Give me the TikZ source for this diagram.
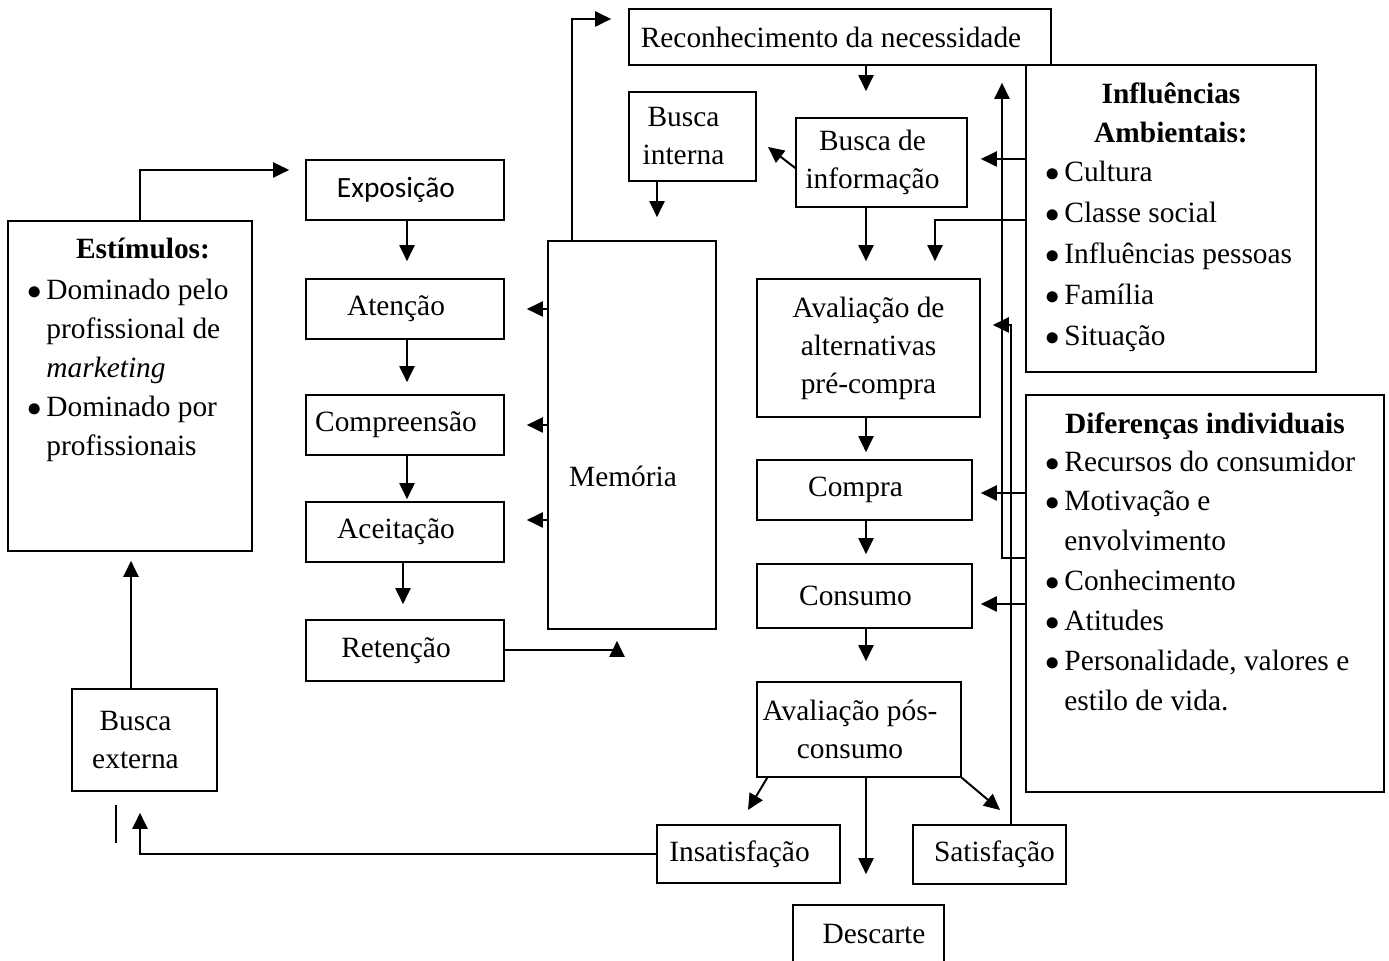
\documentclass[tikz,border=0pt]{standalone}
\usepackage{fontspec}
\setmainfont{Liberation Serif}
\newfontfamily\calibrifont{Carlito}
\usetikzlibrary{arrows.meta}

\newcommand{\fsz}{\fontsize{14.7}{19}\selectfont}
\newcommand{\bul}{\makebox[9.5pt][l]{$\bullet$}}
\newcommand{\nobul}{\hspace*{9.5pt}}
\newcommand{\pad}{\kern9pt}

\tikzset{
  box/.style={draw, line width=0.8pt, inner sep=0pt, align=center},
  arr/.style={-{Triangle[length=8pt,width=7.5pt]}, line width=1pt},
  item/.style={anchor=base west, inner sep=0pt},
  title/.style={anchor=base, inner sep=0pt, font=\fsz\bfseries},
}

\begin{document}
\begin{tikzpicture}[x=0.5pt, y=-0.5pt, font=\fsz]
\useasboundingbox (0,0) rectangle (1389,961);

% decision process (right column)
\node[box, minimum width=211pt, minimum height=28pt] (recon) at (840,37) {Reconhecimento da necessidade\pad};
\node[box, minimum width=63.5pt, minimum height=44.5pt] (interna) at (692.5,136.5) {Busca\pad\\interna\pad};
\node[box, minimum width=85.5pt, minimum height=44.5pt] (info) at (881.5,162.5) {Busca de\pad\\informação\pad};
\node[box, minimum width=111.5pt, minimum height=69pt] (avalia) at (868.5,348) {Avaliação de\\alternativas\\pré-compra};
\node[box, minimum width=107.5pt, minimum height=30pt] (compra) at (864.5,490) {Compra\pad};
\node[box, minimum width=107.5pt, minimum height=32pt] (consumo) at (864.5,596) {Consumo\pad};
\node[box, minimum width=102pt, minimum height=47.5pt] (pos) at (859,729.5) {Avaliação pós-\pad\\consumo\pad};
\node[box, minimum width=91.5pt, minimum height=29pt] (insat) at (748.5,854) {Insatisfação\pad};
\node[box, minimum width=76.5pt, minimum height=29.5pt] (satisf) at (989.5,854.5) {\kern5pt Satisfação};
\node[box, minimum width=75.5pt, minimum height=29pt] (descarte) at (868.5,934) {\kern5.5pt Descarte};

% information processing (left column)
\node[box, minimum width=99pt, minimum height=30pt, font=\calibrifont\fsz] (expos) at (405,190) {Exposição\pad};
\node[box, minimum width=99pt, minimum height=30pt] (atenc) at (405,309) {Atenção\pad};
\node[box, minimum width=99pt, minimum height=30pt] (compr) at (405,425) {Compreensão\pad};
\node[box, minimum width=99pt, minimum height=30pt] (aceit) at (405,532) {Aceitação\pad};
\node[box, minimum width=99pt, minimum height=30.5pt] (reten) at (405,650.5) {Retenção\pad};
\node[box, minimum width=84pt, minimum height=194pt] (memoria) at (632,435) {};
\node (memtext) at (623,476) {Memória};

% stimuli
\node[box, minimum width=122pt, minimum height=165pt] (estim) at (130,386) {};
\node[title] (estimtitle) at (143,259) {Estímulos:};
\foreach \y/\txt [count=\i] in {300/{\bul Dominado pelo}, 339/{\nobul profissional de},
    378/{\nobul\textit{marketing}}, 417/{\bul Dominado por}, 456/{\nobul profissionais}}
  \node[item] (estim\i) at (27,\y) {\txt};
\node[box, minimum width=72.5pt, minimum height=51pt] (externa) at (144.5,740) {Busca\pad\\externa\pad};

% influences
\node[box, minimum width=145pt, minimum height=153.5pt] (influ) at (1171,218.5) {};
\node[title] (inftitle) at (1171,104) {Influências};
\node[title] (inftitleb) at (1171,143) {Ambientais:};
\foreach \y/\txt [count=\i] in {182/{\bul Cultura}, 223/{\bul Classe social},
    264/{\bul Influências pessoas}, 305/{\bul Família}, 346/{\bul Situação}}
  \node[item] (inf\i) at (1045,\y) {\txt};

\node[box, minimum width=179pt, minimum height=198.5pt] (difer) at (1205,593.5) {};
\node[title] (diftitle) at (1205,434) {Diferenças individuais};
\foreach \y/\txt [count=\i] in {472/{\bul Recursos do consumidor}, 511/{\bul Motivação e},
    551/{\nobul envolvimento}, 591/{\bul Conhecimento}, 631/{\bul Atitudes},
    671/{\bul Personalidade, valores e}, 711/{\nobul estilo de vida.}}
  \node[item] (dif\i) at (1045,\y) {\txt};

% helper coordinates
\coordinate (mainx) at (866,0);
\coordinate (leftx) at (407,0);
\coordinate (retx) at (403,0);
\coordinate (intx) at (657,0);
\coordinate (envx) at (935,0);
\coordinate (feedx) at (1002,0);
\coordinate (satx) at (1011,0);
\coordinate (extx) at (140,0);
\coordinate (upx) at (131,0);
\coordinate (memx) at (617,0);
\coordinate (topx) at (572,0);
\coordinate (topy) at (0,19);
\coordinate (stimy) at (0,170);
\coordinate (infoy) at (0,159);
\coordinate (envy) at (0,220);
\coordinate (saty) at (0,325);
\coordinate (compy) at (0,493);
\coordinate (diffy) at (0,558);
\coordinate (consy) at (0,604);
\coordinate (acy) at (0,520);
\coordinate (intin) at (768,147);
\coordinate (insin) at (748,810);
\coordinate (satin) at (1000,810);

% main flow
\draw[arr, shorten >=13pt] (recon.south -| mainx) -- (info.north -| mainx);
\draw[arr] ([yshift=-2.75pt]info.west) -- (intin);
\draw[arr, shorten >=11.5pt] (interna.south -| intx) -- (memoria.north -| intx);
\draw[arr, shorten >=8.5pt] (info.south -| mainx) -- (avalia.north -| mainx);
\draw[arr, shorten >=3.5pt] (avalia.south -| mainx) -- (compra.north -| mainx);
\draw[arr, shorten >=4.5pt] (compra.south -| mainx) -- (consumo.north -| mainx);
\draw[arr, shorten >=10pt] (consumo.south -| mainx) -- (pos.north -| mainx);
\draw[arr] ([xshift=5.5pt]pos.south west) -- (insin);
\draw[arr, shorten >=15pt] (pos.south -| mainx) -- (descarte.north -| mainx);
\draw[arr] (pos.south east) -- (satin);

% influences into the process
\draw[arr, shorten >=6.5pt] (influ.west |- infoy) -- (info.east |- infoy);
\draw[arr, shorten >=8.5pt] (influ.west |- envy) -| (avalia.north -| envx);
\draw[arr, shorten >=8.5pt] (difer.west |- diffy) -| (recon.south -| feedx);
\draw[arr, shorten >=4pt] (difer.west |- compy) -- (compra.east |- compy);
\draw[arr, shorten >=4pt] (difer.west |- consy) -- (consumo.east |- consy);
\draw[arr, shorten >=6pt] (satisf.north -| satx) |- (avalia.east |- saty);

% feedback to search
\draw[arr, shorten >=10.5pt] (insat.west) -| (externa.south -| extx);
\draw[line width=1pt] (116,805) -- (116,843);
\draw[arr, shorten >=4.5pt] (externa.north -| upx) -- (estim.south -| upx);
\draw[arr, shorten >=8pt] (estim.north -| extx) |- (expos.west |- stimy);

% processing chain
\draw[arr, shorten >=8.5pt] (expos.south -| leftx) -- (atenc.north -| leftx);
\draw[arr, shorten >=6pt] (atenc.south -| leftx) -- (compr.north -| leftx);
\draw[arr, shorten >=1pt] (compr.south -| leftx) -- (aceit.north -| leftx);
\draw[arr, shorten >=7.5pt] (aceit.south -| retx) -- (reten.north -| retx);
\draw[arr, shorten >=5.5pt] (reten.east) -| (memoria.south -| memx);
\draw[arr, shorten >=8.5pt] (memoria.north -| topx) |- (recon.west |- topy);
\draw[arr, shorten >=11pt] (memoria.west |- atenc.east) -- (atenc.east);
\draw[arr, shorten >=11pt] (memoria.west |- compr.east) -- (compr.east);
\draw[arr, shorten >=11pt] (memoria.west |- acy) -- (aceit.east |- acy);
\end{tikzpicture}
\end{document}
